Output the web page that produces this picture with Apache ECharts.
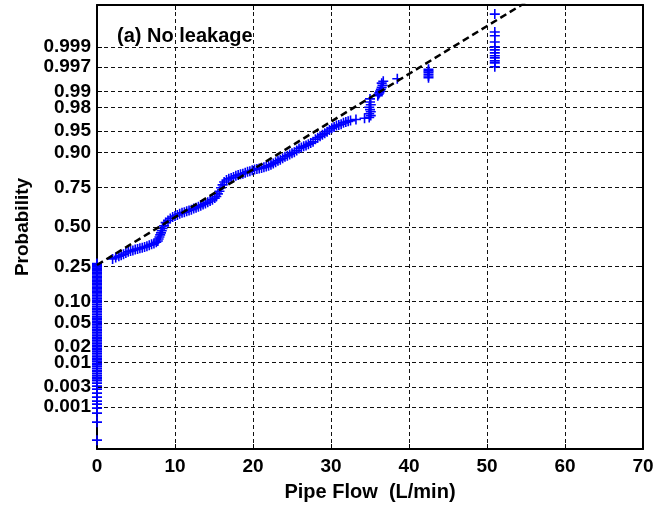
<!DOCTYPE html>
<html>
<head>
<meta charset="utf-8">
<script src="https://cdn.jsdelivr.net/npm/echarts@6/dist/echarts.min.js"></script>
<style>
  html, body { margin: 0; padding: 0; background: #ffffff; }
  #chart { width: 655px; height: 507px; }
</style>
</head>
<body>
<div id="chart"></div>
<script>
// Probability tick labels on the normal-probability axis
const probTicks = ['0.001', '0.003', '0.01', '0.02', '0.05', '0.10', '0.25', '0.50',
                   '0.75', '0.90', '0.95', '0.98', '0.99', '0.997', '0.999'];
// Probability limits of the vertical axis
const probLimits = [0.00007, 0.99993];
// Flow axis
const flowMin = 0, flowMax = 70, flowStep = 10;

// Observations with zero flow (plotted at flow = 0)
const zeroFlowProbs = [
  0.000128, 0.000407, 0.000704, 0.000945, 0.00119, 0.00141, 0.00176, 0.00219,
  0.00271, 0.00317, 0.0037,
  0.0042, 0.0046, 0.005, 0.0055, 0.006, 0.0065, 0.007, 0.0076, 0.0083, 0.009, 0.0097, 0.0105,
  0.0113, 0.0122, 0.0131, 0.0141, 0.0152, 0.0163, 0.0175, 0.0188, 0.020,
  0.0213, 0.0227, 0.0242, 0.0258, 0.0275, 0.0293, 0.0312, 0.0332, 0.0353, 0.0375, 0.0398,
  0.0422, 0.0447, 0.0473, 0.050,
  0.053, 0.056, 0.059, 0.062, 0.066, 0.070, 0.074, 0.078, 0.082, 0.087, 0.092, 0.097, 0.100,
  0.105, 0.110, 0.115, 0.120, 0.125, 0.130, 0.135, 0.140, 0.145, 0.150, 0.156, 0.162, 0.168,
  0.174, 0.180, 0.186, 0.192, 0.198, 0.205, 0.212, 0.219, 0.226, 0.233, 0.240, 0.247, 0.254,
  0.260, 0.265
];

// Non-zero flow observations (L/min) and their plotting probabilities
const flowValues = [
  2.0, 2.4, 2.8, 3.1, 3.4, 3.7, 4.0, 4.3, 4.6, 4.9, 5.2, 5.5, 5.8, 6.1, 6.4, 6.7, 7.0, 7.3, 7.6,
  7.8, 7.9, 8.0, 8.1, 8.2, 8.3, 8.4, 8.6,
  8.8, 9.1, 9.4, 9.7, 10.0, 10.3, 10.6, 10.9, 11.2, 11.5, 11.8, 12.1, 12.4, 12.7, 13.0, 13.3,
  13.6, 13.9, 14.2, 14.5, 14.8,
  15.1, 15.3, 15.5, 15.7, 15.9, 16.1, 16.3,
  16.6, 16.9, 17.2, 17.5, 17.8, 18.1, 18.4, 18.7, 19.0, 19.3, 19.6, 19.9, 20.2, 20.5, 20.8,
  21.1, 21.4, 21.7, 22.0, 22.3, 22.6, 22.9, 23.2, 23.5, 23.8, 24.1, 24.4, 24.7, 25.0, 25.3,
  25.6, 25.9, 26.2, 26.5, 26.8, 27.1, 27.4, 27.7, 28.0, 28.3, 28.6, 28.9, 29.2, 29.5, 29.8,
  30.1, 30.4, 30.7, 31.0, 31.3, 31.6, 31.9, 32.2, 32.5,
  33.2, 34.3,
  34.9, 35.1, 34.9, 35.1, 35.0, 34.9, 35.1, 35.0, 35.0,
  36.0, 36.1, 36.2, 36.3, 36.4, 36.5, 36.6, 36.5, 36.7,
  38.5,
  42.5, 42.5, 42.5, 42.5, 42.5, 42.5,
  51.0, 51.0, 51.0, 51.0, 51.0, 51.0, 51.0, 51.0, 51.0, 51.0, 51.0, 51.0
];
const flowProbs = [
  0.292, 0.300, 0.308, 0.314, 0.320, 0.328, 0.336, 0.340, 0.344, 0.349, 0.353, 0.357, 0.361,
  0.366, 0.371, 0.377, 0.383, 0.389, 0.397,
  0.405, 0.418, 0.432, 0.446, 0.460, 0.474, 0.490, 0.508,
  0.530, 0.545, 0.558, 0.568, 0.575, 0.582, 0.590, 0.596, 0.600, 0.606, 0.612, 0.617, 0.624,
  0.630, 0.636, 0.643, 0.650, 0.657, 0.664, 0.672, 0.680,
  0.690, 0.700, 0.715, 0.730, 0.750, 0.765, 0.780,
  0.790, 0.796, 0.800, 0.804, 0.810, 0.814, 0.817, 0.820, 0.824, 0.828, 0.831, 0.835, 0.838,
  0.840, 0.842, 0.844, 0.847, 0.850, 0.853, 0.857, 0.862, 0.867, 0.872, 0.876, 0.881, 0.886,
  0.889, 0.893, 0.897, 0.900, 0.905, 0.911, 0.914, 0.917, 0.919, 0.922, 0.925, 0.928, 0.934,
  0.937, 0.940, 0.943, 0.946, 0.949, 0.952, 0.955, 0.957, 0.959, 0.960, 0.961, 0.963, 0.964,
  0.965, 0.966,
  0.9675, 0.969,
  0.9698, 0.972, 0.974, 0.976, 0.978, 0.980, 0.982, 0.984, 0.986,
  0.9878, 0.9886, 0.9893, 0.9901, 0.9909, 0.9917, 0.9925, 0.9932, 0.9938,
  0.9945,
  0.9948, 0.9952, 0.9956, 0.9960, 0.9963, 0.9966,
  0.99700, 0.99756, 0.99781, 0.99814, 0.99834, 0.99859, 0.99881, 0.99900, 0.99925, 0.99948,
  0.99959, 0.99987
];

// Fitted normal reference line (mean and standard deviation, L/min)
const fitMean = 7.95;
const fitSigma = 12.2;
const fitFlows = [0, 70];

// Inverse standard normal CDF (Acklam's rational approximation)
function normInv(p) {
  const a = [-3.969683028665376e+01, 2.209460984245205e+02, -2.759285104469687e+02,
             1.383577518672690e+02, -3.066479806614716e+01, 2.506628277459239e+00];
  const b = [-5.447609879822406e+01, 1.615858368580409e+02, -1.556989798598866e+02,
             6.680131188771972e+01, -1.328068155288572e+01];
  const c = [-7.784894002430293e-03, -3.223964580411365e-01, -2.400758277161838e+00,
             -2.549732539343734e+00, 4.374664141464968e+00, 2.938163982698783e+00];
  const d = [7.784695709041462e-03, 3.224671290700398e-01, 2.445134137142996e+00,
             3.754408661907416e+00];
  const pLow = 0.02425, pHigh = 1 - pLow;
  let q, r;
  if (p < pLow) {
    q = Math.sqrt(-2 * Math.log(p));
    return (((((c[0]*q + c[1])*q + c[2])*q + c[3])*q + c[4])*q + c[5]) /
           ((((d[0]*q + d[1])*q + d[2])*q + d[3])*q + 1);
  } else if (p <= pHigh) {
    q = p - 0.5; r = q * q;
    return (((((a[0]*r + a[1])*r + a[2])*r + a[3])*r + a[4])*r + a[5]) * q /
           (((((b[0]*r + b[1])*r + b[2])*r + b[3])*r + b[4])*r + 1);
  } else {
    q = Math.sqrt(-2 * Math.log(1 - p));
    return -(((((c[0]*q + c[1])*q + c[2])*q + c[3])*q + c[4])*q + c[5]) /
            ((((d[0]*q + d[1])*q + d[2])*q + d[3])*q + 1);
  }
}

const tickZ = probTicks.map(s => normInv(parseFloat(s)));
const zMin = normInv(probLimits[0]);
const zMax = normInv(probLimits[1]);

const scatterData = zeroFlowProbs.map(p => [0, normInv(p)])
  .concat(flowValues.map((f, i) => [f, normInv(flowProbs[i])]));
const fitData = fitFlows.map(f => [f, (f - fitMean) / fitSigma]);

const FONT = 'Liberation Sans';
const plusPath = 'path://M5,0L5,10M0,5L10,5';

function probLabel(v) {
  for (let i = 0; i < tickZ.length; i++) {
    if (Math.abs(tickZ[i] - v) < 1e-6) return probTicks[i];
  }
  return '';
}

const labelText = { fontFamily: FONT, fontSize: 19, fontWeight: 'bold', color: '#000' };
const gridLine = { show: true, lineStyle: { color: '#111', width: 1, type: [4, 3] } };
const axisLineStyle = { show: true, onZero: false, lineStyle: { color: '#000', width: 2 } };

const chart = echarts.init(document.getElementById('chart'), null, { renderer: 'canvas' });
chart.setOption({
  animation: false,
  backgroundColor: '#ffffff',
  title: {
    text: '(a) No leakage',
    left: 112, top: 21,
    textStyle: Object.assign({}, labelText, { fontSize: 20 })
  },
  grid: { left: 97, right: 12, top: 5, bottom: 58, containLabel: false, outerBoundsMode: 'none' },
  xAxis: [{
    type: 'value', min: flowMin, max: flowMax, interval: flowStep, position: 'bottom',
    axisLine: axisLineStyle,
    axisTick: { show: true, inside: true, length: 5, lineStyle: { color: '#000', width: 1 } },
    axisLabel: Object.assign({ margin: 8 }, labelText),
    splitLine: gridLine,
    name: 'Pipe Flow  (L/min)', nameLocation: 'middle', nameGap: 33,
    nameTextStyle: Object.assign({}, labelText, { fontSize: 20 })
  }, {
    type: 'value', min: flowMin, max: flowMax, interval: flowStep, position: 'top',
    axisLine: axisLineStyle,
    axisTick: { show: true, inside: true, length: 5, lineStyle: { color: '#000', width: 1 } },
    axisLabel: { show: false }, splitLine: { show: false }
  }],
  yAxis: [{
    type: 'value', min: zMin, max: zMax, position: 'left',
    axisLine: axisLineStyle,
    axisTick: { show: true, inside: true, length: 5, customValues: tickZ,
                lineStyle: { color: '#000', width: 1 } },
    axisLabel: Object.assign({ customValues: tickZ, formatter: probLabel, margin: 6,
                               hideOverlap: false }, labelText),
    splitLine: gridLine,
    name: 'Probability', nameLocation: 'middle', nameGap: 65,
    nameTextStyle: Object.assign({}, labelText, { fontSize: 19 })
  }, {
    type: 'value', min: zMin, max: zMax, position: 'right',
    axisLine: axisLineStyle,
    axisTick: { show: true, inside: true, length: 5, customValues: tickZ,
                lineStyle: { color: '#000', width: 1 } },
    axisLabel: { show: false }, splitLine: { show: false }
  }],
  series: [{
    type: 'scatter', xAxisIndex: 0, yAxisIndex: 0,
    data: scatterData,
    symbol: plusPath, symbolSize: 10,
    itemStyle: { color: '#0000ff', borderColor: '#0000ff', borderWidth: 1.6, opacity: 1 },
    emphasis: { disabled: true },
    z: 3
  }, {
    type: 'line', xAxisIndex: 0, yAxisIndex: 0,
    data: fitData, showSymbol: false, symbol: 'none', clip: true,
    lineStyle: { color: '#000', width: 2.5, type: [7, 4] },
    emphasis: { disabled: true },
    z: 4
  }]
});
</script>
</body>
</html>
